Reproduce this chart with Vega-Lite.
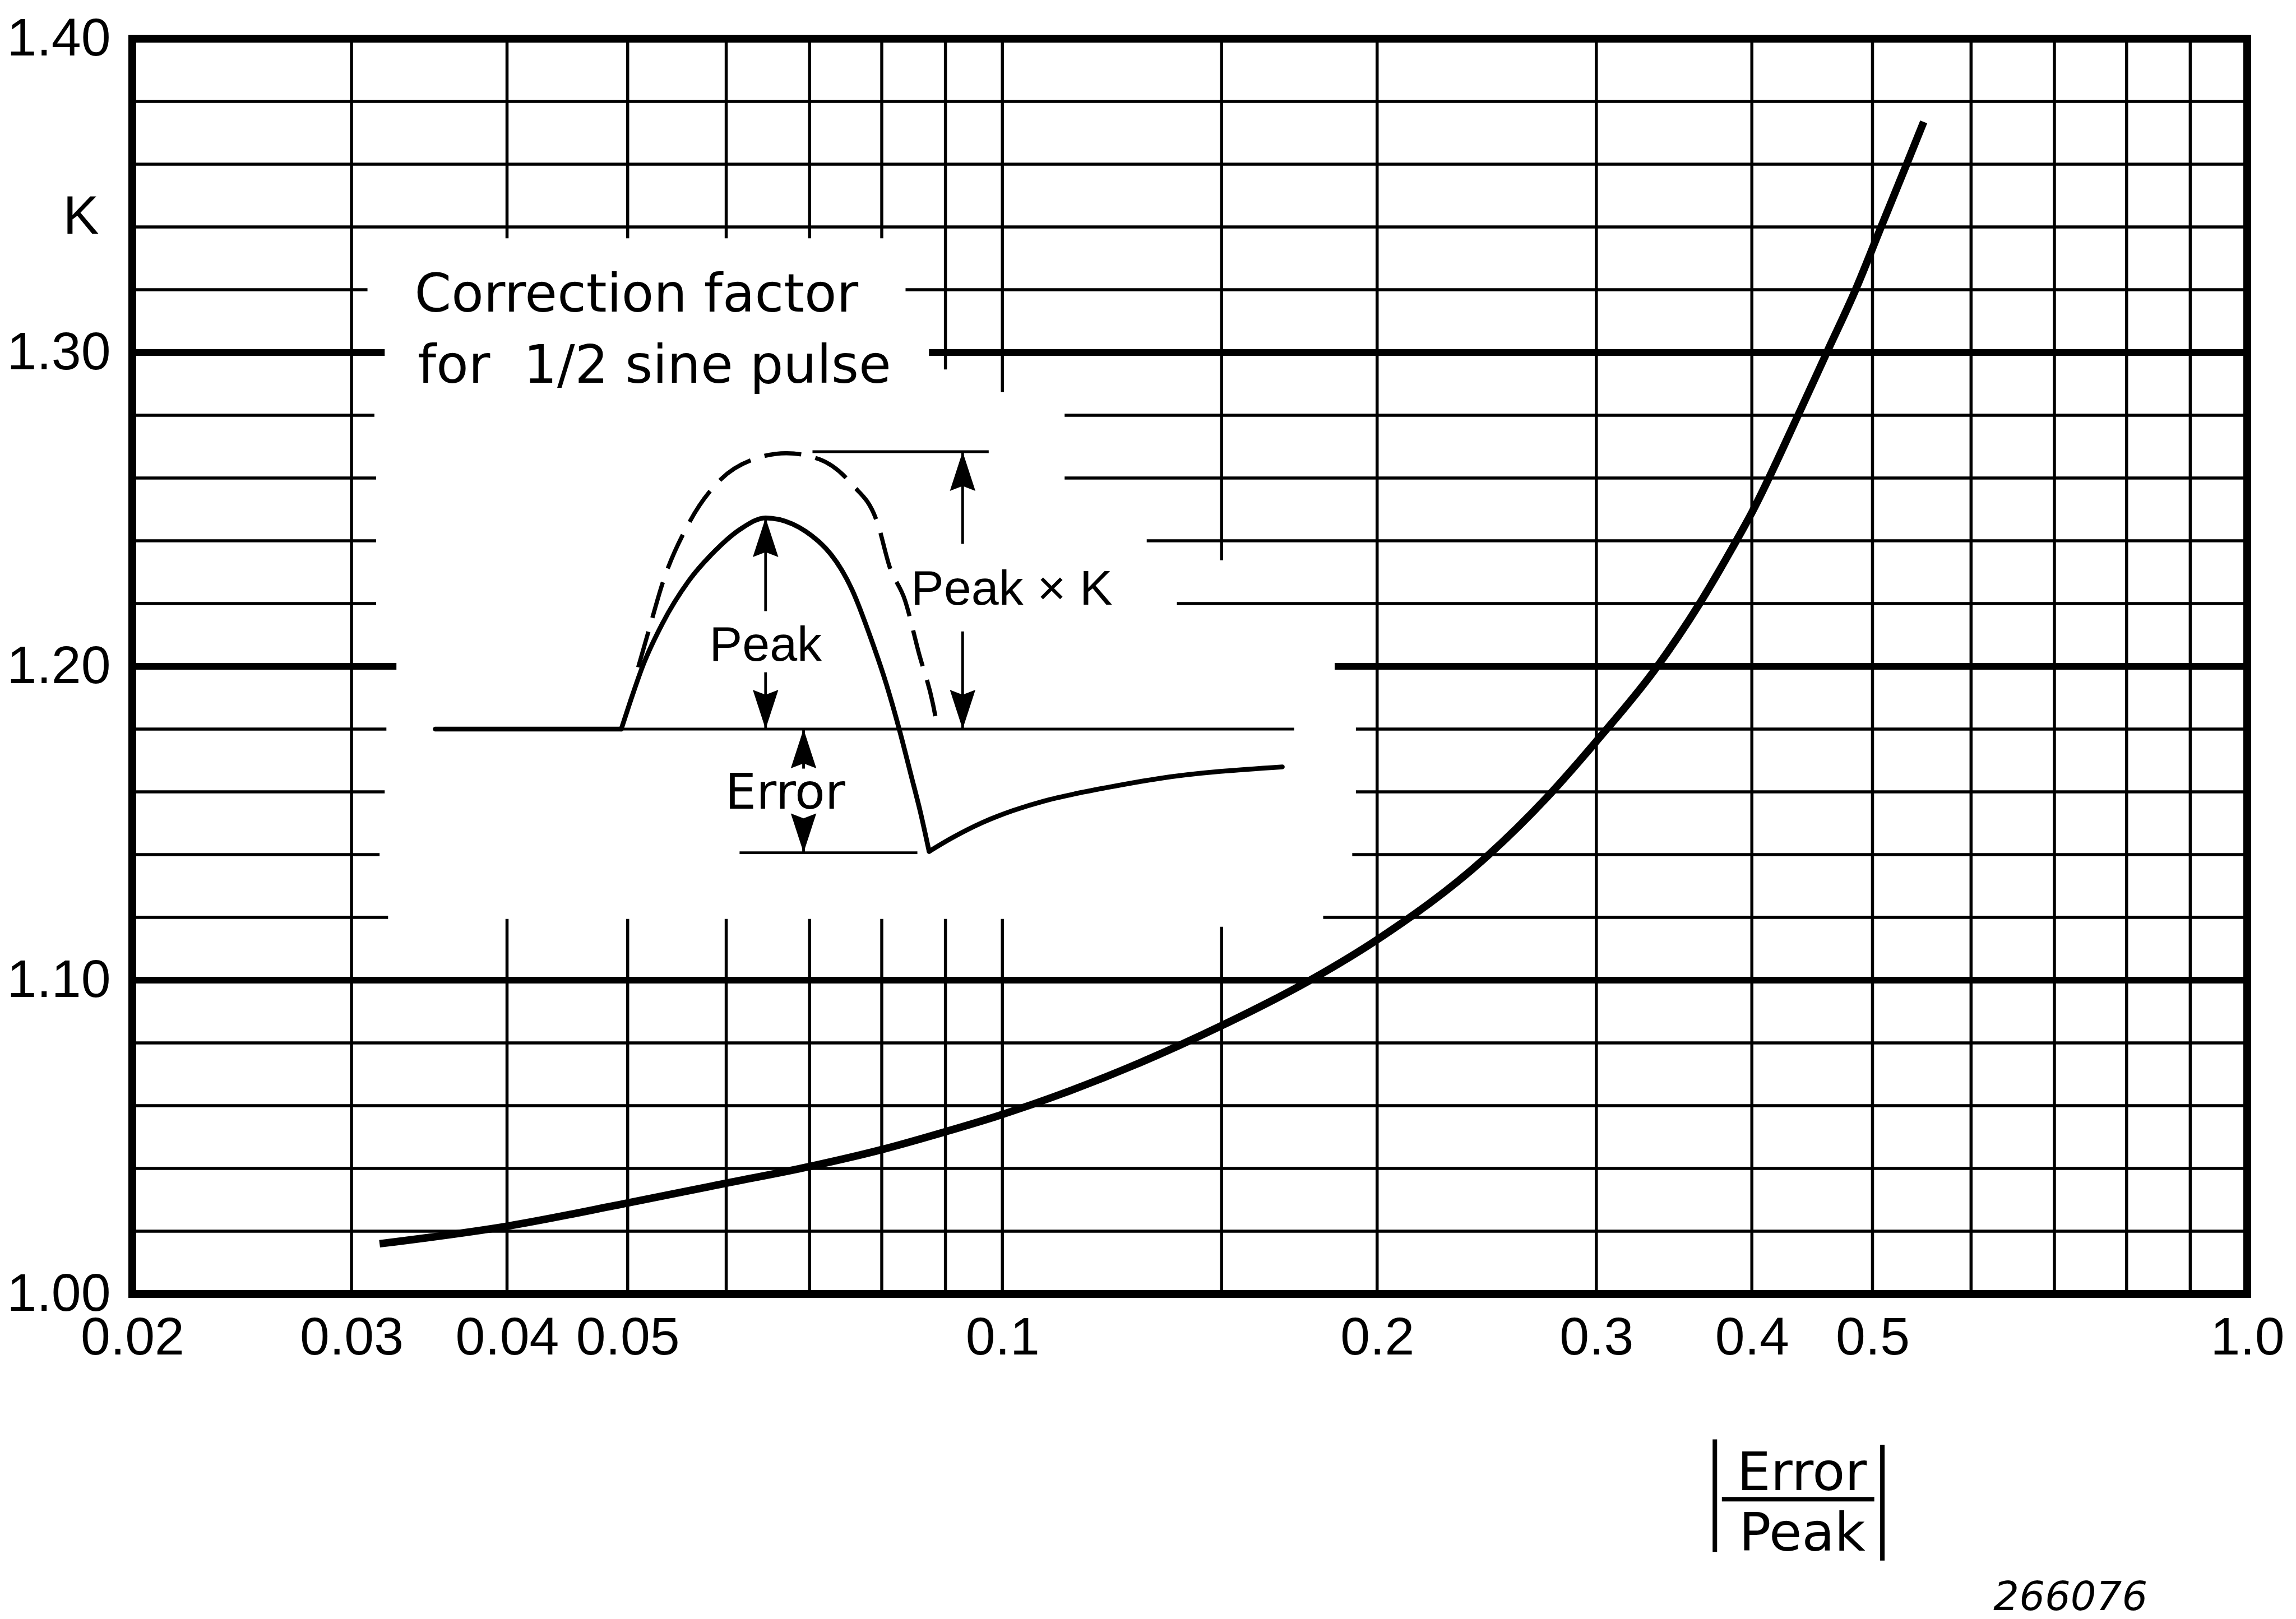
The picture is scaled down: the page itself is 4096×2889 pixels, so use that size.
{
  "$schema": "https://vega.github.io/schema/vega-lite/v6.json",
  "autosize": {"type": "none"},
  "padding": {"left": 236, "top": 69, "right": 87, "bottom": 580},
  "width": 3773,
  "height": 2240,
  "background": "white",
  "config": {"view": {"stroke": null}},
  "datasets": {
    "gridMinor": [
      {"x": 0.02, "x2": 1, "k": 1.02, "k2": 1.02},
      {"x": 0.02, "x2": 1, "k": 1.04, "k2": 1.04},
      {"x": 0.02, "x2": 1, "k": 1.06, "k2": 1.06},
      {"x": 0.02, "x2": 1, "k": 1.08, "k2": 1.08},
      {"x": 0.02, "x2": 0.0321, "k": 1.12, "k2": 1.12},
      {"x": 0.181, "x2": 1, "k": 1.12, "k2": 1.12},
      {"x": 0.02, "x2": 0.0316, "k": 1.14, "k2": 1.14},
      {"x": 0.191, "x2": 1, "k": 1.14, "k2": 1.14},
      {"x": 0.02, "x2": 0.0319, "k": 1.16, "k2": 1.16},
      {"x": 0.1923, "x2": 1, "k": 1.16, "k2": 1.16},
      {"x": 0.02, "x2": 0.032, "k": 1.18, "k2": 1.18},
      {"x": 0.1923, "x2": 1, "k": 1.18, "k2": 1.18},
      {"x": 0.02, "x2": 0.0314, "k": 1.22, "k2": 1.22},
      {"x": 0.1381, "x2": 1, "k": 1.22, "k2": 1.22},
      {"x": 0.02, "x2": 0.0314, "k": 1.24, "k2": 1.24},
      {"x": 0.1306, "x2": 1, "k": 1.24, "k2": 1.24},
      {"x": 0.02, "x2": 0.0314, "k": 1.26, "k2": 1.26},
      {"x": 0.1122, "x2": 1, "k": 1.26, "k2": 1.26},
      {"x": 0.02, "x2": 0.0313, "k": 1.28, "k2": 1.28},
      {"x": 0.1122, "x2": 1, "k": 1.28, "k2": 1.28},
      {"x": 0.02, "x2": 0.0309, "k": 1.32, "k2": 1.32},
      {"x": 0.0836, "x2": 1, "k": 1.32, "k2": 1.32},
      {"x": 0.02, "x2": 1, "k": 1.34, "k2": 1.34},
      {"x": 0.02, "x2": 1, "k": 1.36, "k2": 1.36},
      {"x": 0.02, "x2": 1, "k": 1.38, "k2": 1.38},
      {"x": 0.03, "x2": 0.03, "k": 1.0, "k2": 1.4},
      {"x": 0.04, "x2": 0.04, "k": 1.0, "k2": 1.1195},
      {"x": 0.04, "x2": 0.04, "k": 1.3364, "k2": 1.4},
      {"x": 0.05, "x2": 0.05, "k": 1.0, "k2": 1.1195},
      {"x": 0.05, "x2": 0.05, "k": 1.3364, "k2": 1.4},
      {"x": 0.06, "x2": 0.06, "k": 1.0, "k2": 1.1195},
      {"x": 0.06, "x2": 0.06, "k": 1.3364, "k2": 1.4},
      {"x": 0.07, "x2": 0.07, "k": 1.0, "k2": 1.1195},
      {"x": 0.07, "x2": 0.07, "k": 1.3364, "k2": 1.4},
      {"x": 0.08, "x2": 0.08, "k": 1.0, "k2": 1.1195},
      {"x": 0.08, "x2": 0.08, "k": 1.3364, "k2": 1.4},
      {"x": 0.09, "x2": 0.09, "k": 1.0, "k2": 1.1195},
      {"x": 0.09, "x2": 0.09, "k": 1.2946, "k2": 1.4},
      {"x": 0.1, "x2": 0.1, "k": 1.0, "k2": 1.1195},
      {"x": 0.1, "x2": 0.1, "k": 1.2874, "k2": 1.4},
      {"x": 0.15, "x2": 0.15, "k": 1.0, "k2": 1.117},
      {"x": 0.15, "x2": 0.15, "k": 1.2338, "k2": 1.4},
      {"x": 0.2, "x2": 0.2, "k": 1.0, "k2": 1.4},
      {"x": 0.3, "x2": 0.3, "k": 1.0, "k2": 1.4},
      {"x": 0.4, "x2": 0.4, "k": 1.0, "k2": 1.4},
      {"x": 0.5, "x2": 0.5, "k": 1.0, "k2": 1.4},
      {"x": 0.6, "x2": 0.6, "k": 1.0, "k2": 1.4},
      {"x": 0.7, "x2": 0.7, "k": 1.0, "k2": 1.4},
      {"x": 0.8, "x2": 0.8, "k": 1.0, "k2": 1.4},
      {"x": 0.9, "x2": 0.9, "k": 1.0, "k2": 1.4}
    ],
    "gridMajor": [
      {"x": 0.02, "x2": 1, "k": 1.1, "k2": 1.1},
      {"x": 0.02, "x2": 0.0326, "k": 1.2, "k2": 1.2},
      {"x": 0.1849, "x2": 1, "k": 1.2, "k2": 1.2},
      {"x": 0.02, "x2": 0.0319, "k": 1.3, "k2": 1.3},
      {"x": 0.0873, "x2": 1, "k": 1.3, "k2": 1.3}
    ],
    "frame": [
      {"x": 0.02, "x2": 1, "k": 1.0, "k2": 1.0},
      {"x": 0.02, "x2": 1, "k": 1.4, "k2": 1.4},
      {"x": 0.02, "x2": 0.02, "k": 1.0, "k2": 1.4},
      {"x": 1, "x2": 1, "k": 1.0, "k2": 1.4}
    ],
    "curve": [
      {"x": 0.0316, "k": 1.016},
      {"x": 0.04, "k": 1.0216},
      {"x": 0.05, "k": 1.029},
      {"x": 0.06, "k": 1.0353},
      {"x": 0.07, "k": 1.0406},
      {"x": 0.08, "k": 1.046},
      {"x": 0.09, "k": 1.0517},
      {"x": 0.1, "k": 1.0572},
      {"x": 0.15, "k": 1.0855},
      {"x": 0.178, "k": 1.1007},
      {"x": 0.2, "k": 1.1129},
      {"x": 0.2434, "k": 1.1384},
      {"x": 0.2742, "k": 1.1585},
      {"x": 0.3, "k": 1.1761},
      {"x": 0.335, "k": 1.1994},
      {"x": 0.363, "k": 1.2199},
      {"x": 0.3855, "k": 1.2375},
      {"x": 0.4, "k": 1.249},
      {"x": 0.4357, "k": 1.28},
      {"x": 0.4595, "k": 1.3},
      {"x": 0.4846, "k": 1.32},
      {"x": 0.508, "k": 1.34},
      {"x": 0.5326, "k": 1.36},
      {"x": 0.5497, "k": 1.3735}
    ],
    "thin": [
      {"x": 0.0494, "x2": 0.17155, "k": 1.18, "k2": 1.18},
      {"x": 0.07038, "x2": 0.0975, "k": 1.26839, "k2": 1.26839},
      {"x": 0.0615, "x2": 0.085448, "k": 1.14062, "k2": 1.14062},
      {"x": 0.09291, "x2": 0.09291, "k": 1.26839, "k2": 1.239},
      {"x": 0.09291, "x2": 0.09291, "k": 1.2111, "k2": 1.18},
      {"x": 0.06453, "x2": 0.06453, "k": 1.2473, "k2": 1.2176},
      {"x": 0.06453, "x2": 0.06453, "k": 1.1981, "k2": 1.18},
      {"x": 0.069226, "x2": 0.069226, "k": 1.18, "k2": 1.1674},
      {"x": 0.069226, "x2": 0.069226, "k": 1.1506, "k2": 1.1406}
    ],
    "pulse": [
      {"seg": "base", "x": 0.035028, "k": 1.18},
      {"seg": "base", "x": 0.049412, "k": 1.18},
      {"seg": "arch", "x": 0.049412, "k": 1.18},
      {"seg": "arch", "x": 0.050193, "k": 1.18825},
      {"seg": "arch", "x": 0.051418, "k": 1.20015},
      {"seg": "arch", "x": 0.053318, "k": 1.21363},
      {"seg": "arch", "x": 0.055956, "k": 1.22712},
      {"seg": "arch", "x": 0.05872, "k": 1.23665},
      {"seg": "arch", "x": 0.061628, "k": 1.24378},
      {"seg": "arch", "x": 0.06452, "k": 1.24729},
      {"seg": "arch", "x": 0.071242, "k": 1.23968},
      {"seg": "arch", "x": 0.075782, "k": 1.22412},
      {"seg": "arch", "x": 0.078426, "k": 1.20879},
      {"seg": "arch", "x": 0.080692, "k": 1.19424},
      {"seg": "arch", "x": 0.082562, "k": 1.18048},
      {"seg": "arch", "x": 0.084474, "k": 1.16514},
      {"seg": "arch", "x": 0.085916, "k": 1.15364},
      {"seg": "arch", "x": 0.087326, "k": 1.14101},
      {"seg": "tail", "x": 0.087326, "k": 1.14101},
      {"seg": "tail", "x": 0.090994, "k": 1.14522},
      {"seg": "tail", "x": 0.09635, "k": 1.15021},
      {"seg": "tail", "x": 0.10202, "k": 1.15405},
      {"seg": "tail", "x": 0.10805, "k": 1.15709},
      {"seg": "tail", "x": 0.11436, "k": 1.15937},
      {"seg": "tail", "x": 0.12111, "k": 1.16131},
      {"seg": "tail", "x": 0.13333, "k": 1.16421},
      {"seg": "tail", "x": 0.16783, "k": 1.16795}
    ],
    "dashed": [
      {"x": 0.050986, "k": 1.19968},
      {"x": 0.052046, "k": 1.21206},
      {"x": 0.053318, "k": 1.22633},
      {"x": 0.055956, "k": 1.24538},
      {"x": 0.059434, "k": 1.25966},
      {"x": 0.063132, "k": 1.26601},
      {"x": 0.067062, "k": 1.26791},
      {"x": 0.071236, "k": 1.26601},
      {"x": 0.07567, "k": 1.25808},
      {"x": 0.079416, "k": 1.24538},
      {"x": 0.08116, "k": 1.23179},
      {"x": 0.083512, "k": 1.22106},
      {"x": 0.085686, "k": 1.20421},
      {"x": 0.08793, "k": 1.18812},
      {"x": 0.088686, "k": 1.18048}
    ],
    "heads": [
      {"x": 0.09291, "k": 1.26839, "dir": "up"},
      {"x": 0.09291, "k": 1.18, "dir": "down"},
      {"x": 0.06453, "k": 1.2473, "dir": "up"},
      {"x": 0.06453, "k": 1.18, "dir": "down"},
      {"x": 0.069226, "k": 1.18, "dir": "up"},
      {"x": 0.069226, "k": 1.14062, "dir": "down"}
    ],
    "insetTitle": [
      {"x": 0.033714, "k": 1.31306, "t": "Correction factor"},
      {"x": 0.033906, "k": 1.29029, "t": "for\u00a0 1/2 sine pulse"}
    ],
    "peakLabels": [
      {"x": 0.06453, "k": 1.20174, "t": "Peak"},
      {"x": 0.10174, "k": 1.21973, "t": "Peak × K"}
    ],
    "errorLabel": [
      {"x": 0.066908, "k": 1.15461, "t": "Error"}
    ],
    "fracText": [
      {"x": 0.4388, "k": 0.93754, "t": "Error"},
      {"x": 0.439, "k": 0.91815, "t": "Peak"}
    ],
    "fracRules": [
      {"x": 0.37842, "x2": 0.50166, "k": 0.93462, "k2": 0.93462},
      {"x": 0.37354, "x2": 0.37354, "k": 0.95367, "k2": 0.9178},
      {"x": 0.50922, "x2": 0.50922, "k": 0.95195, "k2": 0.91506}
    ],
    "code": [
      {"x": 0.7212, "k": 0.89927, "t": "266076"}
    ]
  },
  "encoding": {
    "x": {
      "field": "x", "type": "quantitative",
      "scale": {"type": "log", "domain": [0.02, 1], "nice": false},
      "axis": {
        "values": [0.02, 0.03, 0.04, 0.05, 0.1, 0.2, 0.3, 0.4, 0.5, 1],
        "labelExpr": "datum.value == 1 ? '1.0' : format(datum.value, '~g')",
        "domain": false, "ticks": false, "tickSize": 0, "grid": false,
        "labelPadding": 32,
        "labelFont": "Liberation Sans",
        "labelFontSize": 95, "labelColor": "black", "labelLimit": 0,
        "labelFlush": false, "labelOverlap": false, "labelBound": false,
        "title": null
      }
    },
    "y": {
      "field": "k", "type": "quantitative",
      "scale": {"domain": [1.0, 1.4], "nice": false, "zero": false},
      "axis": {
        "values": [1.0, 1.1, 1.2, 1.3, 1.4],
        "format": ".2f",
        "domain": false, "ticks": false, "tickSize": 0, "grid": false,
        "labelPadding": 39,
        "labelFont": "Liberation Sans",
        "labelFontSize": 95, "labelColor": "black", "labelLimit": 0,
        "labelFlush": false, "labelOverlap": false, "labelBound": false,
        "title": "K", "titleAngle": 0, "titleX": -92, "titleY": 318,
        "titleAlign": "center", "titleBaseline": "middle",
        "titleFont": "Liberation Sans",
        "titleFontSize": 96, "titleFontWeight": "normal", "titleColor": "black"
      }
    }
  },
  "layer": [
    {
      "data": {"name": "gridMinor"},
      "mark": {"type": "rule", "color": "black", "strokeWidth": 5.5},
      "encoding": {"x2": {"field": "x2"}, "y2": {"field": "k2"}}
    },
    {
      "data": {"name": "gridMajor"},
      "mark": {"type": "rule", "color": "black", "strokeWidth": 12},
      "encoding": {"x2": {"field": "x2"}, "y2": {"field": "k2"}}
    },
    {
      "data": {"name": "frame"},
      "mark": {"type": "rule", "color": "black", "strokeWidth": 14, "strokeCap": "square"},
      "encoding": {"x2": {"field": "x2"}, "y2": {"field": "k2"}}
    },
    {
      "data": {"name": "curve"},
      "mark": {"type": "line", "color": "black", "strokeWidth": 13.5, "interpolate": "monotone"}
    },
    {
      "data": {"name": "thin"},
      "mark": {"type": "rule", "color": "black", "strokeWidth": 4.8},
      "encoding": {"x2": {"field": "x2"}, "y2": {"field": "k2"}}
    },
    {
      "data": {"name": "pulse"},
      "mark": {"type": "line", "color": "black", "strokeWidth": 8.5, "interpolate": "monotone", "strokeCap": "round", "strokeJoin": "round"},
      "encoding": {"detail": {"field": "seg"}}
    },
    {
      "data": {"name": "dashed"},
      "mark": {"type": "line", "color": "black", "strokeWidth": 7.5, "interpolate": "monotone", "strokeDash": [66, 26]}
    },
    {
      "data": {"name": "heads"},
      "mark": {"type": "point", "filled": true, "color": "black", "opacity": 1, "strokeWidth": 0, "size": 4900},
      "encoding": {
        "shape": {
          "field": "dir", "type": "nominal",
          "scale": {"domain": ["up", "down"], "range": ["M0,0 L-0.65,2 L0,1.75 L0.65,2 Z", "M0,0 L-0.65,-2 L0,-1.75 L0.65,-2 Z"]},
          "legend": null
        }
      }
    },
    {
      "data": {"name": "insetTitle"},
      "mark": {"type": "text", "color": "black", "font": "DejaVu Sans", "fontSize": 94, "align": "left", "baseline": "alphabetic"},
      "encoding": {"text": {"field": "t"}}
    },
    {
      "data": {"name": "peakLabels"},
      "mark": {"type": "text", "color": "black", "font": "Liberation Sans", "fontSize": 88, "align": "center", "baseline": "alphabetic"},
      "encoding": {"text": {"field": "t"}}
    },
    {
      "data": {"name": "errorLabel"},
      "mark": {"type": "text", "color": "black", "font": "DejaVu Sans", "fontSize": 88, "align": "center", "baseline": "alphabetic"},
      "encoding": {"text": {"field": "t"}}
    },
    {
      "data": {"name": "fracText"},
      "mark": {"type": "text", "color": "black", "font": "DejaVu Sans", "fontSize": 95, "align": "center", "baseline": "alphabetic"},
      "encoding": {"text": {"field": "t"}}
    },
    {
      "data": {"name": "fracRules"},
      "mark": {"type": "rule", "color": "black", "strokeWidth": 8},
      "encoding": {"x2": {"field": "x2"}, "y2": {"field": "k2"}}
    },
    {
      "data": {"name": "code"},
      "mark": {"type": "text", "color": "black", "font": "DejaVu Sans", "fontStyle": "italic", "fontSize": 72, "align": "center", "baseline": "alphabetic"},
      "encoding": {"text": {"field": "t"}}
    }
  ]
}
